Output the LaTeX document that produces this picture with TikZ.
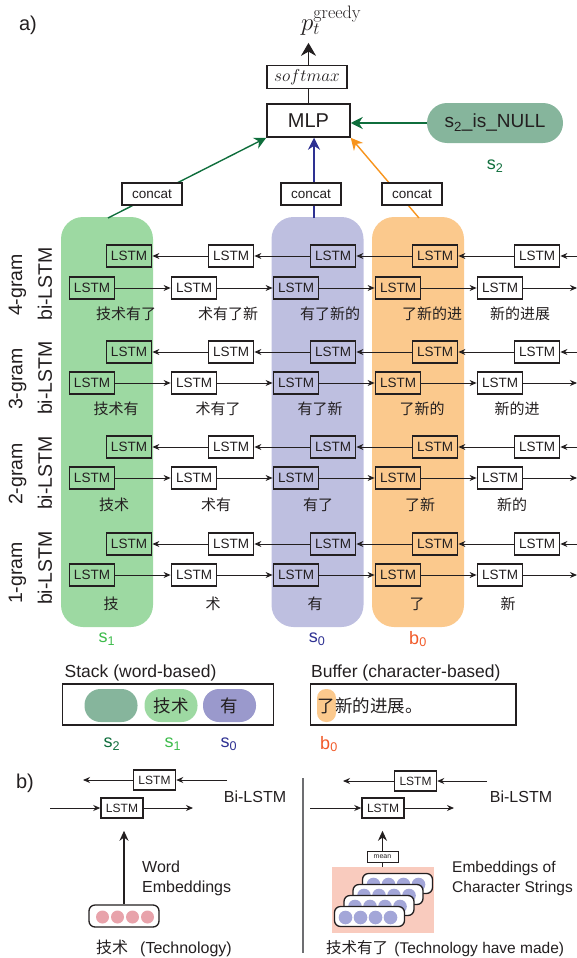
\documentclass[tikz,border=0pt]{standalone}
\usepackage[no-math]{fontspec}
\setmainfont{Liberation Sans}
\newfontfamily\cjk{Noto Sans CJK SC}
\usetikzlibrary{arrows.meta,calc}
\definecolor{ink}{HTML}{231F20}
\definecolor{colgreen}{HTML}{9DD9A2}
\definecolor{colpurple}{HTML}{BEBFE0}
\definecolor{colorange}{HTML}{FBC98D}
\definecolor{darkgreen}{HTML}{0F6E3C}
\definecolor{pillgreen}{HTML}{86B59C}
\definecolor{stackpurple}{HTML}{9A99CC}
\definecolor{lgreen}{HTML}{3DBB4B}
\definecolor{blueish}{HTML}{2E3192}
\definecolor{orangeline}{HTML}{F7941D}
\definecolor{redorange}{HTML}{F15A29}
\definecolor{pinkdot}{HTML}{E8A3AB}
\definecolor{purpledot}{HTML}{A3A6D8}
\definecolor{pinkbg}{HTML}{F9CBBE}
\definecolor{sepgray}{HTML}{6D6E71}
\begin{document}
\begin{tikzpicture}[x=1pt,y=-1pt,
  lstm/.style={draw=ink, line width=1.8pt, minimum width=45pt, minimum height=22pt, inner sep=0pt, font=\fontsize{13.5}{14}\selectfont, text=ink},
  smlstm/.style={draw=ink, fill=white, line width=1.5pt, minimum width=42pt, minimum height=20pt, inner sep=0pt, font=\fontsize{12}{13}\selectfont, text=ink},
  arr/.style={draw=ink, line width=0.9pt, -{Stealth[length=7pt,width=6pt]}},
  cjklab/.style={font=\cjk\fontsize{15}{16}\selectfont, text=ink},
  rowlab/.style={rotate=90, font=\fontsize{19.5}{20}\selectfont, text=ink},
  collab/.style={font=\fontsize{18}{19}\selectfont},
  ttl/.style={font=\fontsize{17.5}{20}\selectfont, text=ink},
  txt/.style={font=\fontsize{16}{20}\selectfont, text=ink},
  txtr/.style={font=\fontsize{15.5}{20}\selectfont, text=ink},
  colband/.style={rounded corners=22pt, minimum width=92pt, minimum height=410pt, inner sep=0pt},
  plainbox/.style={draw=ink, fill=white, line width=1.5pt, inner sep=0pt, text=ink},
  card/.style={draw=ink, fill=white, line width=1.3pt, rounded corners=6pt, minimum width=70pt, minimum height=20pt, inner sep=0pt},
]
\useasboundingbox (0,0) rectangle (577,958);

% ---------- column bands ----------
\node[colband, fill=colgreen] (cs1) at (107,422) {};
\node[colband, fill=colpurple] (cs0) at (317.5,422) {};
\node[colband, fill=colorange] (cb0) at (418,422) {};

% ---------- LSTM grid ----------
\foreach \r/\yb/\yf/\yl/\off/\offl/\labs in {
 4/256/288/314/34/20/{技术有了,术有了新,有了新的,了新的进,新的进展},
 3/352/383/409/24/17/{技术有,术有了,有了新,了新的,新的进},
 2/447/478/505/22/12/{技术,术有,有了,了新,新的},
 1/544/575/604/19/8/{技,术,有,了,新}}{
  \foreach \c in {0,...,4}{
    \pgfmathsetmacro\xf{92+102*\c}
    \pgfmathsetmacro\xb{129+102*\c}
    \ifnum\c=1 \def\fillc{white}\else\ifnum\c=4 \def\fillc{white}\else\def\fillc{none}\fi\fi
    \node[lstm, fill=\fillc] (f\r c\c) at (\xf,\yf) {LSTM};
    \node[lstm, fill=\fillc] (b\r c\c) at (\xb,\yb) {LSTM};
  }
  \foreach \t [count=\cc from 0] in \labs {
    \ifnum\cc=4 \pgfmathsetmacro\xl{500+\offl}\else\pgfmathsetmacro\xl{92+102*\cc+\off}\fi
    \node[cjklab] (l\r c\cc) at (\xl,\yl) {\t};
  }
  \foreach \c in {0,...,3}{
    \pgfmathtruncatemacro\n{\c+1}
    \draw[arr] (f\r c\c) -- (f\r c\n);
    \draw[arr] (b\r c\n) -- (b\r c\c);
  }
  \coordinate (fe\r) at (577,\yf);
  \coordinate (be\r) at (577,\yb);
  \draw[arr] (f\r c4) -- (fe\r);
  \draw[arr] (be\r) -- (b\r c4);
}

% row labels
\node[rowlab] (g4) at (17.5,285) {4-gram};
\node[rowlab] (g4b) at (45,284) {bi-LSTM};
\node[rowlab] (g3) at (17.5,379) {3-gram};
\node[rowlab] (g3b) at (45,378) {bi-LSTM};
\node[rowlab] (g2) at (17.5,474) {2-gram};
\node[rowlab] (g2b) at (45,473) {bi-LSTM};
\node[rowlab] (g1) at (17.5,573) {1-gram};
\node[rowlab] (g1b) at (45,568) {bi-LSTM};

% column labels
\node[collab, text=lgreen] (ls1) at (107,639) {s\textsubscript{1}};
\node[collab, text=blueish] (ls0) at (317,639) {s\textsubscript{0}};
\node[collab, text=redorange] (lb0) at (418,639) {b\textsubscript{0}};

% ---------- top ----------
\node[font=\fontsize{20}{22}\selectfont, text=ink] (alab) at (28,25) {a)};
\node[plainbox, minimum width=83pt, minimum height=33pt, font=\fontsize{20}{22}\selectfont] (mlp) at (308.5,120.5) {MLP};
\node[plainbox, line width=1.3pt, minimum width=80pt, minimum height=23pt] (sm) at (307,77) {\fontsize{18}{20}\selectfont$softmax$};
\node[anchor=base west, inner sep=0pt, text=ink] (pt) at (301,31) {\fontsize{25}{28}\selectfont$p_t^{\raisebox{-7pt}{\fontfamily{lmr}\fontsize{18}{20}\selectfont greedy}}$};
\draw[ink, line width=1.5pt] (mlp.north) -- (mlp.north |- sm.south);
\draw[ink, line width=1.5pt, -{Stealth[length=13pt,width=15pt]}] (mlp.north |- sm.north) -- ++(0,-22);

\node[fill=pillgreen, rounded corners=20pt, minimum width=136pt, minimum height=40pt, font=\fontsize{19}{20}\selectfont, text=ink] (null) at (495,123) {s\textsubscript{2}\_is\_NULL};
\node[collab, text=darkgreen] (s2top) at (495,166) {s\textsubscript{2}};
\draw[darkgreen, line width=1.4pt, -{Stealth[length=12pt,width=12pt]}] (null.west) -- (null.west -| mlp.east);

\coordinate (gtop) at (108,218);
\coordinate (otop) at (419,218);
\coordinate (ptop) at (314,218);
\draw[darkgreen, line width=1.4pt, -{Stealth[length=12pt,width=12pt]}] (gtop) -- (mlp.south west);
\draw[blueish, line width=1.4pt, -{Stealth[length=12pt,width=12pt]}] (ptop) -- (ptop |- mlp.south);
\draw[orangeline, line width=1.4pt, -{Stealth[length=12pt,width=12pt]}] (otop) -- (mlp.south east);
\node[plainbox, line width=1.3pt, minimum width=60pt, minimum height=22pt, font=\fontsize{13.5}{14}\selectfont] (cc1) at (152,194) {concat};
\node[plainbox, line width=1.3pt, minimum width=60pt, minimum height=22pt, font=\fontsize{13.5}{14}\selectfont] (cc0) at (311,194) {concat};
\node[plainbox, line width=1.3pt, minimum width=60pt, minimum height=22pt, font=\fontsize{13.5}{14}\selectfont] (cc2) at (412,194) {concat};

% ---------- stack / buffer ----------
\node[ttl, anchor=west, inner sep=0pt] (stt) at (64.5,673) {Stack (word-based)};
\node[draw=ink, line width=1.5pt, minimum width=211pt, minimum height=41pt, inner sep=0pt] (stack) at (168,704.5) {};
\node[fill=pillgreen, rounded corners=16pt, minimum width=53pt, minimum height=33pt, inner sep=0pt] (p2) at (111,705.5) {};
\node[fill=colgreen, rounded corners=16pt, minimum width=53pt, minimum height=33pt, inner sep=0pt, font=\cjk\fontsize{17.5}{18}\selectfont, text=ink] (p1) at (171,705.5) {技术};
\node[fill=stackpurple, rounded corners=16pt, minimum width=53pt, minimum height=33pt, inner sep=0pt, font=\cjk\fontsize{17.5}{18}\selectfont, text=ink] (p0) at (229.5,705.5) {有};
\node[collab, text=darkgreen] (ss2) at (112,744) {s\textsubscript{2}};
\node[collab, text=lgreen] (ss1) at (173,744) {s\textsubscript{1}};
\node[collab, text=blueish] (ss0) at (229,744) {s\textsubscript{0}};

\node[ttl, anchor=west, inner sep=0pt] (bft) at (311,673) {Buffer (character-based)};
\node[draw=ink, line width=1.5pt, minimum width=205.5pt, minimum height=41pt, inner sep=0pt] (buffer) at (413,704.5) {};
\node[fill=colorange, rounded corners=9pt, minimum width=19pt, minimum height=33pt, inner sep=0pt] (hl) at (326.5,705.5) {};
\node[anchor=west, inner sep=0pt, font=\cjk\fontsize{17.5}{18}\selectfont, text=ink] (buf) at (317.75,705.5) {了新的进展。};
\node[collab, text=redorange] (bb0) at (329,744) {b\textsubscript{0}};

% ---------- b) ----------
\node[font=\fontsize{20}{22}\selectfont, text=ink] (blab) at (25,783) {b)};
\node[smlstm] (lb) at (154.5,780) {LSTM};
\node[smlstm] (lf) at (122,808) {LSTM};
\coordinate (lbin) at (227,780);
\coordinate (lbout) at (83,780);
\coordinate (lfin) at (50,808);
\coordinate (lfout) at (193,808);
\draw[arr] (lbin) -- (lb);
\draw[arr] (lb) -- (lbout);
\draw[arr] (lfin) -- (lf);
\draw[arr] (lf) -- (lfout);
\node[txt] (bil) at (255,797) {Bi-LSTM};
\node[draw=ink, line width=1.3pt, fill=white, rounded corners=6pt, minimum width=70pt, minimum height=22pt, inner sep=0pt] (emb) at (124,916) {};
\foreach \dx in {-21.5,-6.5,8.5,23.5}{
  \fill[pinkdot] ($(emb.center)+(\dx,1)$) circle (6.5pt);
}
\draw[ink, line width=1.5pt, -{Stealth[length=10pt,width=9pt]}] (emb.north) -- (emb.north |- lf.south) [shorten >=12pt];
\node[txt, anchor=west, align=left, inner sep=0pt] (wemb) at (142,878) {Word\\Embeddings};
\node[txt, anchor=west, inner sep=0pt] (tech) at (96,948) {{\cjk 技术}\hspace{0.75em}(Technology)};

\draw[sepgray, line width=2.5pt] (303,778) -- (303,953);
\node[smlstm] (rb) at (415.5,781) {LSTM};
\node[smlstm] (rf) at (383,808) {LSTM};
\coordinate (rbin) at (487,781);
\coordinate (rbout) at (343,781);
\coordinate (rfin) at (310,808);
\coordinate (rfout) at (454,808);
\draw[arr] (rbin) -- (rb);
\draw[arr] (rb) -- (rbout);
\draw[arr] (rfin) -- (rf);
\draw[arr] (rf) -- (rfout);
\node[txt] (bir) at (521,797) {Bi-LSTM};
\node[fill=pinkbg, minimum width=102pt, minimum height=66pt, inner sep=0pt] (pbg) at (383,900) {};
\node[draw=ink, line width=1pt, fill=white, minimum width=31pt, minimum height=11pt, inner sep=0pt, font=\fontsize{7}{7}\selectfont, text=ink] (mean) at (382.5,856.5) {mean};
\draw[ink, line width=1.2pt] (mean.south) -- (pbg.north -| mean.south);
\draw[ink, line width=1.5pt, -{Stealth[length=10pt,width=9pt]}] (mean.north) -- (mean.north |- rf.south) [shorten >=12pt];
\foreach \cx/\cy [count=\k] in {397.5/883.5, 388/894.5, 379/905.5, 369.5/916.5}{
  \node[card] (card\k) at (\cx,\cy) {};
  \foreach \dx in {-24,-9,6,21}{
    \fill[purpledot] ($(card\k.center)+(\dx,1)$) circle (6.8pt);
  }
}
\node[txtr, anchor=west, align=left, inner sep=0pt] (cemb) at (452,878) {Embeddings of\\Character Strings};
\node[txtr, anchor=west, inner sep=0pt] (tech2) at (326,949) {{\cjk 技术有了}\hspace{0.4em}(Technology have made)};
\end{tikzpicture}
\end{document}
